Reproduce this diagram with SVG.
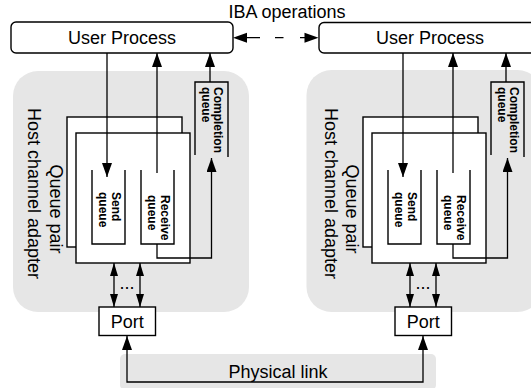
<svg xmlns="http://www.w3.org/2000/svg" width="531" height="388" viewBox="0 0 531 388">
<style>
.bg{fill:#e6e6e6;stroke:none}
.box{fill:#fff;stroke:#000;stroke-width:1.4}
.open{fill:none;stroke:#000;stroke-width:1.4}
.ln{fill:none;stroke:#000;stroke-width:1.3}
.t{font-family:"Liberation Sans",Arial,sans-serif;font-size:18px;fill:#000}
.b{font-family:"Liberation Sans",Arial,sans-serif;font-size:12px;font-weight:bold;fill:#000}
.m{text-anchor:middle}
</style>
<defs>
<marker id="ah" markerUnits="userSpaceOnUse" markerWidth="14" markerHeight="10" refX="14" refY="5" orient="auto-start-reverse"><path d="M0,0 L14,5 L0,10 Z" fill="#000"/></marker>
<marker id="as" markerUnits="userSpaceOnUse" markerWidth="13" markerHeight="8" refX="13" refY="4" orient="auto-start-reverse"><path d="M0,0 L13,4 L0,8 Z" fill="#000"/></marker>
</defs>

<g id="hca-left">
<rect class="bg" x="13" y="71" width="236" height="241" rx="25"/>
<text class="t m" transform="translate(28,193.5) rotate(90)">Host channel adapter</text>
</g>
<g id="hca-right">
<rect class="bg" x="306.5" y="70" width="236" height="242" rx="25"/>
<text class="t m" transform="translate(324.5,193.5) rotate(90)">Host channel adapter</text>
</g>
<g id="link">
<rect class="bg" x="120" y="354" width="316" height="36" rx="5"/>
<text class="t m" x="278" y="378">Physical link</text>
</g>

<g id="up-left">
<rect class="box" x="11" y="22" width="222" height="31" rx="5"/>
<text class="t m" x="122" y="43.5">User Process</text>
</g>
<g id="up-right">
<rect class="box" x="319" y="22.5" width="222" height="30.5" rx="5"/>
<text class="t m" x="430" y="43.5">User Process</text>
</g>
<text class="t m" x="287" y="18">IBA operations</text>

<g id="cq-left">
<path class="open" d="M195,155 V82 H228 V157"/>
<text class="b" transform="translate(213.5,87) rotate(90)">Completion</text>
<text class="b" transform="translate(201.5,87) rotate(90)">queue</text>
</g>
<g id="cq-right">
<path class="open" d="M491,155 V82 H524 V157"/>
<text class="b" transform="translate(509.5,87) rotate(90)">Completion</text>
<text class="b" transform="translate(497.5,87) rotate(90)">queue</text>
</g>

<g id="qp-left">
<rect class="box" x="67" y="117" width="115" height="130"/>
<rect class="box" x="76" y="133" width="114" height="130"/>
<text class="t m" transform="translate(50,209) rotate(90)">Queue pair</text>
</g>
<g id="qp-right">
<rect class="box" x="363" y="117" width="115" height="130"/>
<rect class="box" x="372" y="133" width="114" height="130"/>
<text class="t m" transform="translate(346,209) rotate(90)">Queue pair</text>
</g>

<g id="sq-left">
<path class="open" d="M92,170 V244 H125 V170"/>
<text class="b" transform="translate(111.5,192) rotate(90)">Send</text>
<text class="b" transform="translate(98.5,192) rotate(90)">queue</text>
</g>
<g id="rq-left">
<path class="open" d="M141,170 V244 H174 V170"/>
<text class="b" transform="translate(160.5,195) rotate(90)">Receive</text>
<text class="b" transform="translate(147.5,195) rotate(90)">queue</text>
</g>
<g id="sq-right">
<path class="open" d="M388,170 V244 H421 V170"/>
<text class="b" transform="translate(407.5,192) rotate(90)">Send</text>
<text class="b" transform="translate(394.5,192) rotate(90)">queue</text>
</g>
<g id="rq-right">
<path class="open" d="M437,170 V244 H470 V170"/>
<text class="b" transform="translate(456.5,195) rotate(90)">Receive</text>
<text class="b" transform="translate(443.5,195) rotate(90)">queue</text>
</g>

<g id="port-left">
<rect class="box" x="99" y="307" width="56.5" height="28.5"/>
<text class="t m" x="127.3" y="327.5">Port</text>
</g>
<g id="port-right">
<rect class="box" x="395" y="307" width="56.5" height="28.5"/>
<text class="t m" x="423.3" y="327.5">Port</text>
</g>

<g id="connectors">
<path class="ln" d="M107,53 V177" marker-end="url(#ah)"/>
<path class="ln" d="M157,173 V53" marker-end="url(#ah)"/>
<path class="ln" d="M210,82 V53" marker-end="url(#ah)"/>
<path class="ln" d="M157,244 V258 H211.5 V158" marker-end="url(#ah)"/>
<path class="ln" d="M114,263 V307" marker-start="url(#as)" marker-end="url(#as)"/>
<path class="ln" d="M140,263 V307" marker-start="url(#as)" marker-end="url(#as)"/>
<text class="t m" x="127" y="289">...</text>

<path class="ln" d="M403,53 V177" marker-end="url(#ah)"/>
<path class="ln" d="M453,173 V53" marker-end="url(#ah)"/>
<path class="ln" d="M506,82 V53" marker-end="url(#ah)"/>
<path class="ln" d="M453,244 V258 H507.5 V158" marker-end="url(#ah)"/>
<path class="ln" d="M410,263 V307" marker-start="url(#as)" marker-end="url(#as)"/>
<path class="ln" d="M436,263 V307" marker-start="url(#as)" marker-end="url(#as)"/>
<text class="t m" x="423" y="289">...</text>

<path class="ln" d="M127,336 V382 H423 V336" marker-start="url(#ah)" marker-end="url(#ah)"/>

<path d="M233,37.7 L247,32.7 L247,42.7 Z" fill="#000"/>
<path class="ln" d="M246,37.7 H260 M275,37.7 H283.5 M300,37.7 H305"/>
<path d="M318.5,37.7 L304.5,32.7 L304.5,42.7 Z" fill="#000"/>
</g>
</svg>
